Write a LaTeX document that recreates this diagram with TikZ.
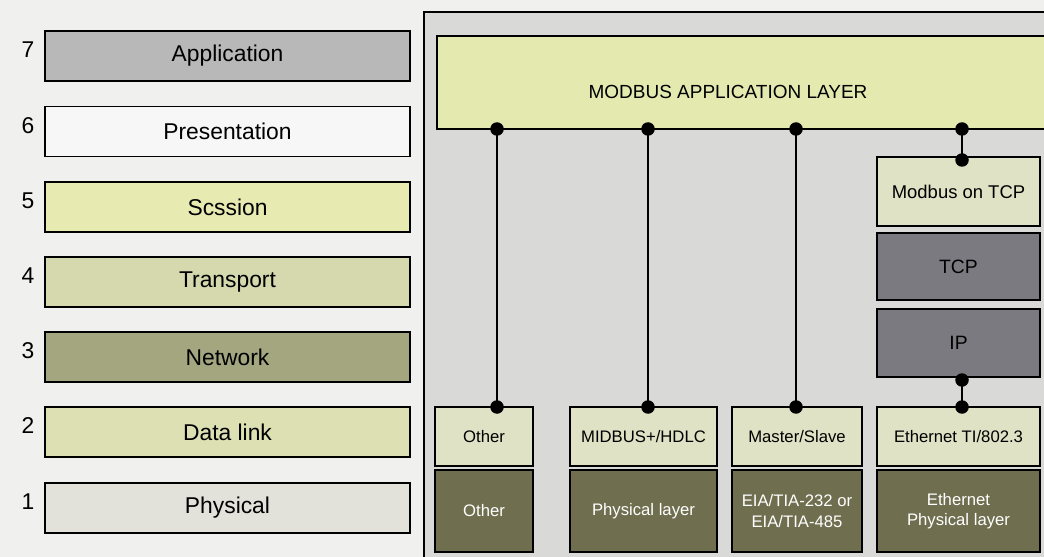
\documentclass[tikz,border=0pt]{standalone}
\usepackage{fontspec}
\setmainfont{Liberation Sans}
\definecolor{pagebg}{HTML}{F0F0EE}
\definecolor{panelbg}{HTML}{D9D9D7}
\definecolor{appyellow}{HTML}{E4E9B0}
\definecolor{osiseven}{HTML}{B8B8B8}
\definecolor{osisix}{HTML}{F7F7F7}
\definecolor{osifive}{HTML}{E7EBB2}
\definecolor{osifour}{HTML}{D6D9AD}
\definecolor{osithree}{HTML}{A4A67F}
\definecolor{ositwo}{HTML}{DDE0B3}
\definecolor{osione}{HTML}{E2E2DA}
\definecolor{protolight}{HTML}{DFE2C4}
\definecolor{protodark}{HTML}{6F6F50}
\definecolor{ipgray}{HTML}{7B7A80}

\begin{document}
\begin{tikzpicture}[x=0.02cm, y=-0.02cm,
    osibox/.style={draw=black, line width=1.1pt, inner sep=0pt,
        minimum width=7.3cm, minimum height=1cm, font=\fontsize{13}{15}\selectfont},
    stackbox/.style={draw=black, line width=1.1pt, inner sep=0pt, align=center},
    upperbox/.style={stackbox, fill=protolight, minimum height=1.18cm,
        font=\fontsize{9.5}{11}\selectfont},
    lowerbox/.style={stackbox, fill=protodark, text=white, minimum height=1.64cm,
        font=\fontsize{9.5}{11.5}\selectfont},
    joint/.style={circle, fill=black, inner sep=0pt, minimum size=0.27cm},
    wire/.style={line width=1.1pt}]
    \useasboundingbox (0,0) rectangle (1044,557);
    \clip (0,0) rectangle (1044,557);
    % Draw the backgrounds
    \fill[pagebg] (0,0) rectangle (1044,557);
    \draw[fill=panelbg, line width=1.1pt] (424,12) rectangle (1060,570);
    % Draw the OSI layers
    \foreach \n/\name/\col/\y in {7/Application/osiseven/56, 6/Presentation/osisix/131.5,
        5/Scssion/osifive/207, 4/Transport/osifour/282, 3/Network/osithree/357,
        2/Data link/ositwo/432, 1/Physical/osione/508} {
        \node[osibox, fill=\col] (osi\n) at (227.5,\y) {\name};
        \node[font=\fontsize{13}{15}\selectfont] (num\n) at (28,\y-6) {\n};
    }
    % Draw the Modbus application layer
    \node[stackbox, fill=appyellow, minimum width=12.3cm, minimum height=1.86cm] (app) at (744,82.5) {};
    \node[font=\fontsize{10.8}{13}\selectfont] (applabel) at (728,92) {MODBUS APPLICATION LAYER};
    % Draw the TCP/IP stack
    \node[stackbox, fill=protolight, minimum width=3.26cm, minimum height=1.38cm,
        font=\fontsize{10.5}{12}\selectfont] (mbtcp) at (958.5,191.5) {Modbus on TCP};
    \node[stackbox, fill=ipgray, minimum width=3.26cm, minimum height=1.34cm,
        font=\fontsize{11}{13}\selectfont] (tcp) at (958.5,266.5) {TCP};
    \node[stackbox, fill=ipgray, minimum width=3.26cm, minimum height=1.36cm,
        font=\fontsize{11}{13}\selectfont] (ip) at (958.5,343) {IP};
    % Draw the data link and physical boxes
    \node[upperbox, minimum width=1.96cm] (dlother) at (484,436.5) {Other};
    \node[upperbox, minimum width=2.94cm] (hdlc) at (643.5,436.5) {MIDBUS+/HDLC};
    \node[upperbox, minimum width=2.6cm] (master) at (797,436.5) {Master/Slave};
    \node[upperbox, minimum width=3.26cm] (ethlink) at (958.5,436.5) {Ethernet TI/802.3};
    \node[lowerbox, minimum width=1.96cm] (phother) at (484,511) {Other};
    \node[lowerbox, minimum width=2.94cm] (phlayer) at (643.5,511) {Physical layer};
    \node[lowerbox, minimum width=2.6cm] (eia) at (797,511) {EIA/TIA-232 or\\EIA/TIA-485};
    \node[lowerbox, minimum width=3.26cm] (ethphy) at (958.5,511) {Ethernet\\Physical layer};
    % Draw the connections
    \foreach \i/\x in {1/497, 2/648, 3/796, 4/962} {
        \coordinate (top\i) at (\x,129);
        \coordinate (bot\i) at (\x,407);
    }
    \coordinate (tcpin) at (962,160);
    \coordinate (ipout) at (962,380);
    \draw[wire] (top1) -- (bot1);
    \draw[wire] (top2) -- (bot2);
    \draw[wire] (top3) -- (bot3);
    \draw[wire] (top4) -- (tcpin);
    \draw[wire] (ipout) -- (bot4);
    \foreach \c in {top1, top2, top3, top4, bot1, bot2, bot3, bot4, tcpin, ipout}
        \node[joint] at (\c) {};
\end{tikzpicture}
\end{document}
